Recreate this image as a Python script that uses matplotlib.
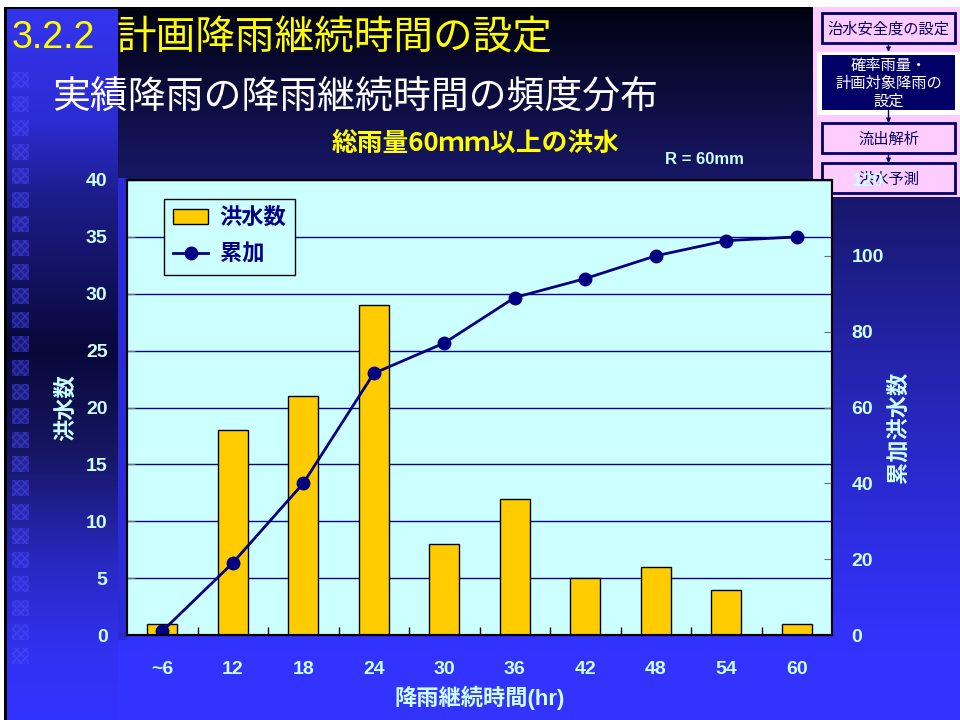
import numpy as np
import matplotlib.pyplot as plt
from matplotlib.patches import Rectangle
from matplotlib.colors import to_rgb

plt.rcParams['font.family'] = ['Liberation Sans', 'Noto Sans CJK JP', 'DejaVu Sans']
plt.rcParams['font.weight'] = 'bold'

# ---- data ----
durations = ['~6', '12', '18', '24', '30', '36', '42', '48', '54', '60']
floods = [1, 18, 21, 29, 8, 12, 5, 6, 4, 1]
cumulative = [1, 19, 40, 69, 77, 89, 94, 100, 104, 105]
left_ticks = list(range(0, 45, 5))
right_ticks = list(range(0, 140, 20))
flow_steps = ['治水安全度の設定', '確率雨量・\n計画対象降雨の\n設定', '流出解析', '洪水予測']

W, H = 960, 720
CYAN = '#CCFFFF'
NAVY = '#000080'


def vgrad(stops, y0, y1):
    ys = np.arange(y0, y1)
    pos = [s[0] for s in stops]
    cols = np.array([to_rgb(s[1]) for s in stops])
    img = np.stack([np.interp(ys, pos, cols[:, k]) for k in range(3)], axis=-1)
    return img[:, None, :]


fig = plt.figure(figsize=(9.6, 7.2), dpi=100, facecolor='white')

# ---- slide background (pixel coordinates) ----
bg = fig.add_axes([0, 0, 1, 1], zorder=-2)
bg.axis('off')
bg.add_patch(Rectangle((4, 7), W - 4, H - 7, fc='black', ec='none', zorder=0))
main_stops = [(9, '#020214'), (150, '#14145a'), (350, '#2323a8'),
              (550, '#2e2ee6'), (650, '#3333ff'), (720, '#3333ff')]
bg.imshow(vgrad(main_stops, 9, H), extent=[7, W, H, 9], aspect='auto', zorder=0.5)
side_stops = [(9, '#3434ee'), (120, '#2c2cd4'), (200, '#1c1c88'), (350, '#08083a'),
              (450, '#161662'), (560, '#2828c0'), (650, '#3131f0'), (720, '#3333ff')]
bg.imshow(vgrad(side_stops, 9, H), extent=[7, 118, H, 9], aspect='auto', zorder=0.6)
bg.add_patch(Rectangle((118, 178), 9, 462, fc='#2a2ad6', ec='none', zorder=0.7))
for y in range(72, 665, 24):
    bg.add_patch(Rectangle((12, y), 17, 16, fc='#3c3cf0', ec='#5a5aff',
                           lw=0, hatch='xxxx', alpha=0.35, zorder=0.8))

# titles
bg.text(12, 38, '3.2.2', color='#FFFF00', size=27, weight='normal', va='center')
bg.text(117, 38, '計画降雨継続時間の設定', color='#FFFF00', size=28.5,
        weight='normal', va='center', family=['Noto Sans CJK JP'])
bg.text(52, 97, '実績降雨の降雨継続時間の頻度分布', color='white', size=27.3,
        weight='normal', va='center', family=['Noto Sans CJK JP'])
bg.text(476, 143, '総雨量60ｍｍ以上の洪水', color='#FFFF00', size=18.5,
        ha='center', va='center', family=['Noto Sans CJK JP'])
bg.text(665, 159, 'R = 60mm', color=CYAN, size=12, va='center')

# flow chart
bg.add_patch(Rectangle((813, 7), W - 813, 190, fc='#FFCCFF', ec='none'))
boxes = [(13, 43), (55, 110), (123, 153), (163, 193)]
for i, (top, bot) in enumerate(boxes):
    if i == 1:
        bg.add_patch(Rectangle((817, 52), W - 817, 63, fc='white', ec='none'))
        bg.add_patch(Rectangle((822, top), 133, bot - top, fc='#000066', ec='none'))
        tc = 'white'
    else:
        bg.add_patch(Rectangle((822, top), 133, bot - top, fc='#FFCCFF',
                               ec='#000066', lw=2))
        tc = '#000066'
    bg.text(888.5, (top + bot) / 2 + 1, flow_steps[i], color=tc, size=11,
            weight='normal', ha='center', va='center', linespacing=1.05,
            family=['Noto Sans CJK JP'])
    if i < len(boxes) - 1:
        nxt = boxes[i + 1][0] - (3 if i == 0 else 0)
        bg.annotate('', xy=(888.5, nxt), xytext=(888.5, bot),
                    arrowprops=dict(arrowstyle='-|>', color='#000066', lw=1,
                                    mutation_scale=6, shrinkA=0, shrinkB=0))
bg.set_xlim(0, W)
bg.set_ylim(H, 0)

# ---- chart ----
ax = fig.add_axes([127 / W, 1 - 635 / H, 705 / W, 455 / H], zorder=0)
ax.set_facecolor(CYAN)
x = np.arange(len(durations))
ax.bar(x, floods, width=0.42, color='#FFCC00', edgecolor='black', lw=1,
       label='洪水数', zorder=2)
ax.set_xlim(-0.5, len(durations) - 0.5)
ax.set_ylim(0, 40)
ax.set_yticks(left_ticks)
ax.grid(axis='y', color=NAVY, lw=1)
ax.set_axisbelow(True)
ax.set_xticks(x)
ax.set_xticklabels(durations)
ax.set_xticks(x[:-1] + 0.5, minor=True)
ax.tick_params(axis='x', which='major', length=0, pad=19, labelsize=14,
               labelcolor=CYAN)
ax.tick_params(axis='x', which='minor', direction='in', length=6,
               color='black', width=1)
ax.tick_params(axis='y', direction='in', length=6, color='#707070',
               pad=14, labelsize=14, labelcolor=CYAN)

ax2 = ax.twinx()
ax2.plot(x, cumulative, color=NAVY, lw=2, marker='o', ms=9, label='累加')
ax2.set_ylim(0, 120)
ax2.set_yticks(right_ticks)
ax2.tick_params(axis='y', direction='in', length=6, color='#707070',
                pad=14, labelsize=14, labelcolor=CYAN)
for a in (ax, ax2):
    for s in a.spines.values():
        s.set_linewidth(1.5)
        s.set_color('black')

ax.set_ylabel('洪水数', color=CYAN, size=16, weight='bold')
ax.yaxis.set_label_coords(-0.071, 0.5)
ax2.set_ylabel('累加洪水数', color=CYAN, size=16, weight='bold')
ax2.yaxis.set_label_coords(1.079, 0.457)
ax.set_xlabel('降雨継続時間(hr)', color=CYAN, size=16, weight='bold')
ax.xaxis.set_label_coords(0.5, -0.112)

h1, l1 = ax.get_legend_handles_labels()
h2, l2 = ax2.get_legend_handles_labels()
leg = ax2.legend(h1 + h2, l1 + l2, loc='upper left',
                 bbox_to_anchor=(0.0525, 0.958), borderaxespad=0,
                 fancybox=False, edgecolor='black', facecolor=CYAN,
                 framealpha=1, prop={'size': 16, 'weight': 'bold'},
                 handlelength=1.6, handletextpad=0.5, borderpad=0.4,
                 labelspacing=0.7)
leg.get_frame().set_linewidth(1)
for t in leg.get_texts():
    t.set_color(NAVY)

fig.savefig('out.png', dpi=100, facecolor='white')
